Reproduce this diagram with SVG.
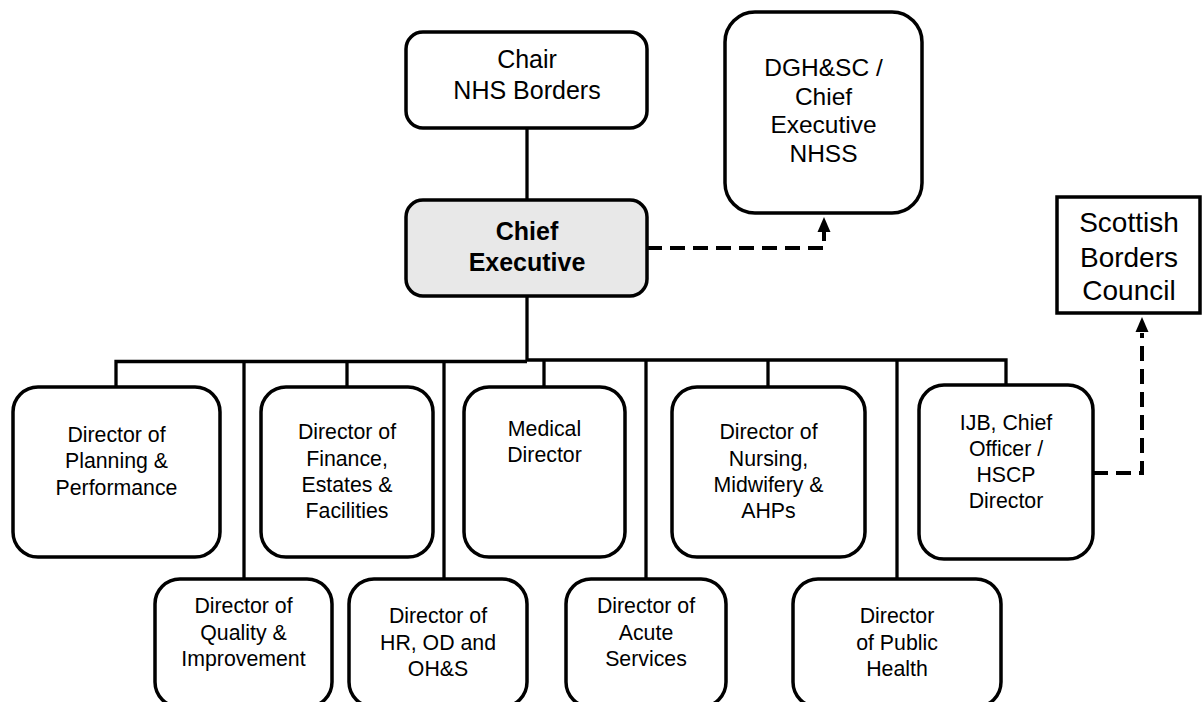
<svg xmlns="http://www.w3.org/2000/svg" width="1202" height="702" viewBox="0 0 1202 702">
<style>
.box{fill:#fff;stroke:#000;stroke-width:3.5}
.ce{fill:#e8e8e8;stroke:#000;stroke-width:3.5}
.t{font-family:"Liberation Sans",Arial,sans-serif;fill:#000;text-anchor:middle}
.big{font-size:25px}
.mid{font-size:24.5px}
.sbc{font-size:28px}
.dir{font-size:21.3px}
.b{font-weight:bold}
.solid{fill:none;stroke:#000;stroke-width:3.3}
.dash{fill:none;stroke:#000;stroke-width:4;stroke-dasharray:15 8}
.head{fill:#000}
</style>
<rect width="1202" height="702" fill="#fff"/>
<g id="connectors">
<path class="solid" d="M527,128 V200"/>
<path class="solid" d="M527,296 V361"/>
<path class="solid" d="M116,387 V361.5 H527"/>
<path class="solid" d="M527,360 H1006 V385"/>
<path class="solid" d="M347,361.5 V387"/>
<path class="solid" d="M544,360 V387"/>
<path class="solid" d="M768,360 V387"/>
<path class="solid" d="M244,361.5 V579"/>
<path class="solid" d="M444,361.5 V579"/>
<path class="solid" d="M646,360 V579"/>
<path class="solid" d="M897,360 V579"/>
<path class="dash" d="M647,248 H824 V232"/>
<path class="head" d="M824,217 L830.5,232 L817.5,232 Z"/>
<path class="dash" d="M1093,473 H1142 V333"/>
<path class="head" d="M1142,317 L1148.5,332 L1135.5,332 Z"/>
</g>
<g id="chair">
<rect class="box" x="406" y="32" width="241" height="96" rx="17"/>
<text class="t big" x="527" y="68">Chair</text>
<text class="t big" x="527" y="99">NHS Borders</text>
</g>
<g id="chief-executive">
<rect class="ce" x="406" y="200" width="241" height="96" rx="17"/>
<text class="t big b" x="527" y="240">Chief</text>
<text class="t big b" x="527" y="271">Executive</text>
</g>
<g id="dghsc">
<rect class="box" x="725" y="12" width="197" height="201" rx="30"/>
<text class="t mid" x="823.5" y="76">DGH&amp;SC /</text>
<text class="t mid" x="823.5" y="104.5">Chief</text>
<text class="t mid" x="823.5" y="133">Executive</text>
<text class="t mid" x="823.5" y="161.5">NHSS</text>
</g>
<g id="sbc">
<rect class="box" x="1057" y="197" width="143" height="116"/>
<text class="t sbc" x="1129" y="232">Scottish</text>
<text class="t sbc" x="1129" y="267">Borders</text>
<text class="t sbc" x="1129" y="300">Council</text>
</g>
<g id="planning">
<rect class="box" x="13" y="387" width="207" height="170" rx="25"/>
<text class="t dir" x="116.5" y="442">Director of</text>
<text class="t dir" x="116.5" y="468">Planning &amp;</text>
<text class="t dir" x="116.5" y="495">Performance</text>
</g>
<g id="finance">
<rect class="box" x="261" y="387" width="172" height="170" rx="25"/>
<text class="t dir" x="347" y="439">Director of</text>
<text class="t dir" x="347" y="466">Finance,</text>
<text class="t dir" x="347" y="492">Estates &amp;</text>
<text class="t dir" x="347" y="518">Facilities</text>
</g>
<g id="medical">
<rect class="box" x="464" y="387" width="161" height="170" rx="25"/>
<text class="t dir" x="544.5" y="436">Medical</text>
<text class="t dir" x="544.5" y="462">Director</text>
</g>
<g id="nursing">
<rect class="box" x="672" y="387" width="193" height="170" rx="25"/>
<text class="t dir" x="768.5" y="439">Director of</text>
<text class="t dir" x="768.5" y="466">Nursing,</text>
<text class="t dir" x="768.5" y="492">Midwifery &amp;</text>
<text class="t dir" x="768.5" y="518">AHPs</text>
</g>
<g id="ijb">
<rect class="box" x="919" y="385" width="174" height="174" rx="25"/>
<text class="t dir" x="1006" y="430">IJB, Chief</text>
<text class="t dir" x="1006" y="456">Officer /</text>
<text class="t dir" x="1006" y="482">HSCP</text>
<text class="t dir" x="1006" y="508">Director</text>
</g>
<g id="quality">
<rect class="box" x="155" y="579" width="177" height="128" rx="25"/>
<text class="t dir" x="243.5" y="613">Director of</text>
<text class="t dir" x="243.5" y="640">Quality &amp;</text>
<text class="t dir" x="243.5" y="666">Improvement</text>
</g>
<g id="hr">
<rect class="box" x="349" y="579" width="178" height="128" rx="25"/>
<text class="t dir" x="438" y="623">Director of</text>
<text class="t dir" x="438" y="650">HR, OD and</text>
<text class="t dir" x="438" y="676">OH&amp;S</text>
</g>
<g id="acute">
<rect class="box" x="566" y="579" width="160" height="128" rx="25"/>
<text class="t dir" x="646" y="613">Director of</text>
<text class="t dir" x="646" y="640">Acute</text>
<text class="t dir" x="646" y="666">Services</text>
</g>
<g id="public-health">
<rect class="box" x="793" y="579" width="208" height="128" rx="25"/>
<text class="t dir" x="897" y="623">Director</text>
<text class="t dir" x="897" y="650">of Public</text>
<text class="t dir" x="897" y="676">Health</text>
</g>
</svg>
